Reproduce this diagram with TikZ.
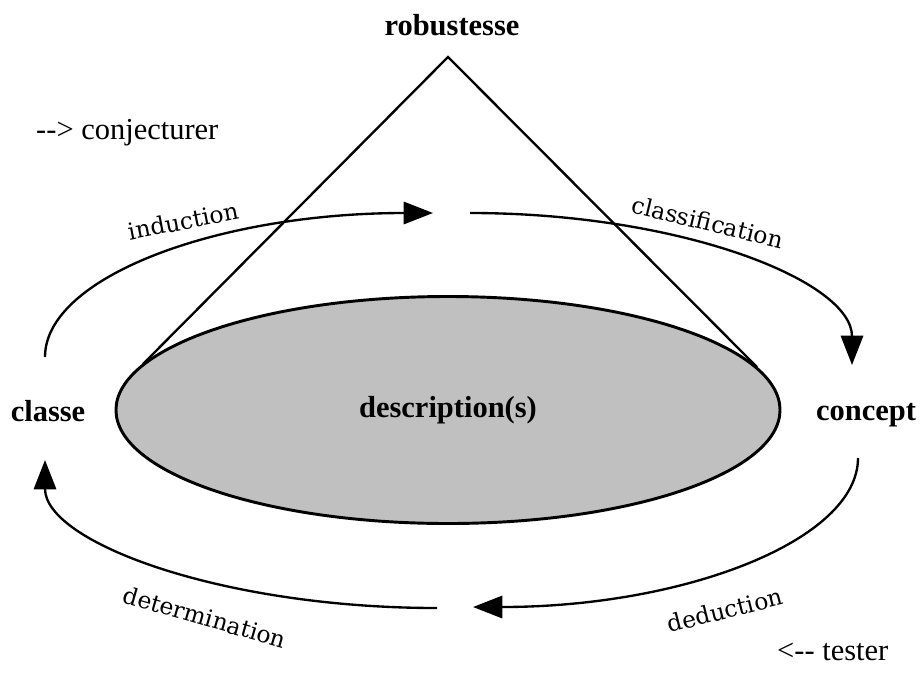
\documentclass[tikz,border=0pt]{standalone}
\usepackage{fontspec}
\setmainfont{Liberation Serif}
\newfontfamily\slabfont{DejaVu Serif}
\usetikzlibrary{shapes.geometric, arrows.meta, positioning}
\tikzset{>={Triangle[length=25pt,width=19pt]}}
\definecolor{descgray}{HTML}{C0C0C0}

\begin{document}
\begin{tikzpicture}[x=0.03cm,y=0.03cm,
    every node/.style={inner sep=0pt},
    big/.style={font=\fontsize{26}{30}\selectfont\bfseries},
    plain/.style={font=\fontsize{26}{30}\selectfont},
    arclabel/.style={font=\slabfont\fontsize{20}{24}\selectfont},
    flow/.style={line width=2pt,->}]
    \useasboundingbox (0,0) rectangle (923,-689);

    % the description and the cone above it
    \coordinate (apex) at (448,-57);
    \path (448,-410) ++(-305,46) coordinate (lfoot) (448,-410) ++(309,43) coordinate (rfoot);
    \draw[line width=2pt] (lfoot) -- (apex) -- (rfoot);
    \node[ellipse,draw,line width=2.5pt,fill=descgray,minimum width=19.92cm,minimum height=6.81cm,
          big] (desc) at (448,-410) {description(s)};

    \node[big,anchor=base] (robust) at (452,-35) {robustesse};
    \node[big,anchor=base] (classe) at (48,-421) {classe};
    \node[big,anchor=base] (concept) at (866,-420) {concept};
    \node[plain,anchor=base west] (conj) at (36,-139) {-{}-> conjecturer};
    \node[plain,anchor=base west] (tester) at (777,-660) {<-{}- tester};

    % the cycle
    \coordinate (ind-a) at (45,-357);
    \coordinate (ind-b) at (433,-213);
    \coordinate (cls-a) at (470,-213);
    \coordinate (cls-b) at (852,-365);
    \coordinate (ded-a) at (858,-458);
    \coordinate (ded-b) at (473,-607);
    \coordinate (det-a) at (437,-608);
    \coordinate (det-b) at (45,-460);
    \draw[flow] (ind-a) .. controls +(0,80) and +(-215,0) .. (ind-b);
    \draw[flow] (cls-a) .. controls +(211,0) and +(0,84) .. (cls-b);
    \draw[flow] (ded-a) .. controls +(0,-82) and +(212,0) .. (ded-b);
    \draw[flow] (det-a) .. controls +(-216,0) and +(0,-82) .. (det-b);

    \node[arclabel,rotate=11] (ind) at (183,-221) {induction};
    \node[arclabel,rotate=-13.5] (cls) at (708,-222) {classification};
    \node[arclabel,rotate=14] (ded) at (725,-610) {deduction};
    \node[arclabel,rotate=-16] (det) at (205,-617) {determination};
\end{tikzpicture}
\end{document}
